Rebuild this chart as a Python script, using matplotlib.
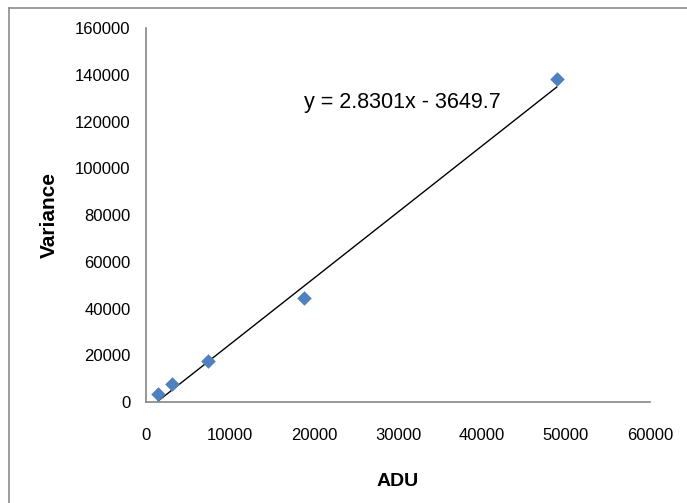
import numpy as np
import matplotlib
matplotlib.use('Agg')
import matplotlib.pyplot as plt
from matplotlib.lines import Line2D

adu = [1430, 3100, 7400, 18800, 48900]
variance = [3500, 7700, 17500, 44500, 138200]
slope = 2.8301
intercept = -3649.7

x_ticks = [0, 10000, 20000, 30000, 40000, 50000, 60000]
y_ticks = [0, 20000, 40000, 60000, 80000, 100000, 120000, 140000, 160000]

plt.rcParams['font.family'] = ['Liberation Sans', 'DejaVu Sans']

fig = plt.figure(figsize=(6.87, 5.03), dpi=100)
ax = fig.add_axes([0.2125, 0.2008, 0.7336, 0.7435])

ax.scatter(adu, variance, marker='D', s=55, color='#4F81BD', zorder=3,
           linewidths=0)

x_fit = np.array([min(adu), max(adu)])
ax.plot(x_fit, slope * x_fit + intercept, color='black', lw=1, zorder=2)

ax.text(0.508, 0.80, 'y = 2.8301x - 3649.7', transform=ax.transAxes,
        ha='center', va='center', fontsize=15.5)

ax.set_xlim(0, 60000)
ax.set_ylim(0, 160000)
ax.set_xticks(x_ticks)
ax.set_yticks(y_ticks)
ax.tick_params(length=0, labelsize=12, colors='black')
ax.tick_params(axis='x', pad=19)
ax.tick_params(axis='y', pad=11)

for side in ['top', 'right']:
    ax.spines[side].set_visible(False)
for side in ['left', 'bottom']:
    ax.spines[side].set_color('#868686')
    ax.spines[side].set_linewidth(1.2)

ax.set_xlabel('ADU', fontsize=14, fontweight='bold', labelpad=21)
ax.set_ylabel('Variance', fontsize=15, fontweight='bold', labelpad=12)

# chart frame (only left/top edges visible in the crop)
fig.add_artist(Line2D([9 / 687, 9 / 687], [0, 1 - 8 / 503],
                      transform=fig.transFigure, color='#8c8c8c', lw=1.2))
fig.add_artist(Line2D([9 / 687, 1], [1 - 8 / 503, 1 - 8 / 503],
                      transform=fig.transFigure, color='#8c8c8c', lw=1.2))

fig.savefig('out.png', dpi=100)
